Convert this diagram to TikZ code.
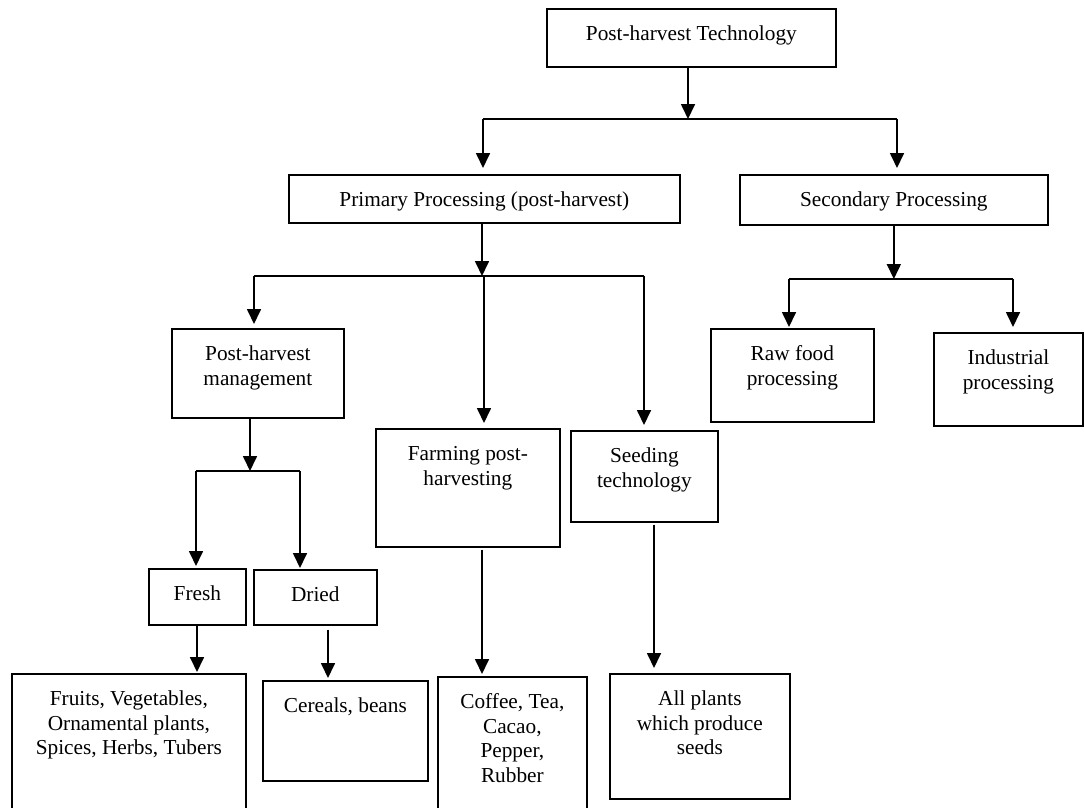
\documentclass[tikz,border=0pt]{standalone}
\usepackage{fontspec}
\setmainfont{Liberation Serif}
\usetikzlibrary{arrows.meta}
\newcommand{\bxt}[3]{\vbox to #2pt{\hsize=#1pt\relax\centering\vskip 14.6pt\strut #3\par\vfil}}
\begin{document}
\begin{tikzpicture}[x=1pt,y=-1pt,
  boxn/.style={draw, line width=1.7pt, inner sep=0pt, anchor=north west, font=\fontsize{21.3}{24.5}\selectfont},
  conn/.style={line width=1.7pt},
  arr/.style={line width=1.7pt, -{Triangle[length=15pt,width=14pt]}, shorten >=#1},
  arr/.default=0pt]
\useasboundingbox (0,0) rectangle (1084,807);
\begin{scope}
\clip (0,0) rectangle (1084,807);
% boxes
\node[boxn] (top) at (546,8) {\bxt{289}{58}{Post-harvest Technology}};
\node[boxn] (pri) at (288,174) {\bxt{391}{48}{Primary Processing (post-harvest)}};
\node[boxn] (sec) at (739,174) {\bxt{308}{50}{Secondary Processing}};
\node[boxn] (phm) at (171,328) {\bxt{172}{89}{Post-harvest\\management}};
\node[boxn] (far) at (375,428) {\bxt{184}{118}{Farming post-\\harvesting}};
\node[boxn] (see) at (570,430) {\bxt{147}{91}{Seeding\\technology}};
\node[boxn] (raw) at (710,328) {\bxt{163}{93}{Raw food\\processing}};
\node[boxn] (ind) at (933,332) {\bxt{149}{93}{Industrial\\processing}};
\node[boxn] (fre) at (148,568) {\bxt{97}{56}{Fresh}};
\node[boxn] (dri) at (253,569) {\bxt{123}{55}{Dried}};
\node[boxn] (fru) at (11,673) {\bxt{234}{150}{Fruits, Vegetables,\\Ornamental plants,\\Spices, Herbs, Tubers}};
\node[boxn] (cer) at (262,680) {\bxt{165}{100}{Cereals, beans}};
\node[boxn] (cof) at (437,676) {\bxt{149}{150}{Coffee, Tea,\\Cacao,\\Pepper,\\Rubber}};
\node[boxn] (all) at (609,673) {\bxt{180}{125}{All plants\\which produce\\seeds}};
% level 1
\coordinate (h1L) at (483,119);
\coordinate (h1R) at (897,119);
\coordinate (x1) at (688,0);
\draw[conn] (h1L) -- (h1R);
\draw[arr] (top.south -| x1) -- (h1L -| x1);
\draw[arr=6pt] (h1L) -- (h1L |- pri.north);
\draw[arr=6pt] (h1R) -- (h1R |- sec.north);
% level 2 primary
\coordinate (h2L) at (254,276);
\coordinate (h2M) at (484,276);
\coordinate (h2R) at (644,276);
\coordinate (x2) at (482,0);
\draw[conn] (h2L) -- (h2R);
\draw[arr] (pri.south -| x2) -- (h2L -| x2);
\draw[arr=4pt] (h2L) -- (h2L |- phm.north);
\draw[arr=5pt] (h2M) -- (h2M |- far.north);
\draw[arr=5pt] (h2R) -- (h2R |- see.north);
% level 2 secondary
\coordinate (h3L) at (789,279);
\coordinate (h3R) at (1013,279);
\draw[conn] (h3L) -- (h3R);
\draw[arr] (sec.south) -- (sec.south |- h3L);
\draw[arr=1pt] (h3L) -- (h3L |- raw.north);
\draw[arr=5pt] (h3R) -- (h3R |- ind.north);
% post-harvest management
\coordinate (h4M) at (250,471);
\coordinate (h4L) at (196,471);
\coordinate (h4R) at (300,471);
\draw[conn] (h4L) -- (h4R);
\draw[arr] (phm.south -| h4M) -- (h4M);
\draw[arr=2pt] (h4L) -- (h4L |- fre.north);
\draw[arr=1pt] (h4R) -- (h4R |- dri.north);
% bottom arrows
\coordinate (xf) at (197,0);
\coordinate (xd) at (328,0);
\coordinate (xa) at (482,0);
\coordinate (xs) at (654,0);
\draw[arr=1pt] (fre.south -| xf) -- (fru.north -| xf);
\draw[arr=2pt] ([yshift=-4pt]dri.south -| xd) -- (cer.north -| xd);
\draw[arr=2pt] ([yshift=-2pt]far.south -| xa) -- (cof.north -| xa);
\draw[arr=5pt] ([yshift=-2pt]see.south -| xs) -- (all.north -| xs);
\end{scope}
\end{tikzpicture}
\end{document}
